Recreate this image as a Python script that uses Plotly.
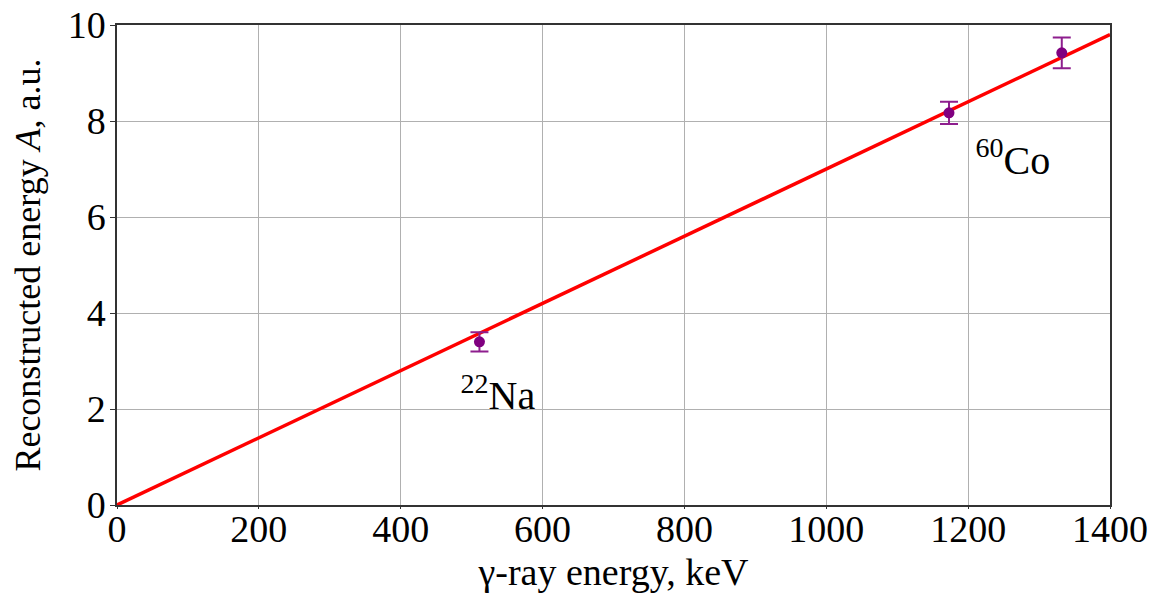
import plotly.graph_objects as go

energies = [511, 1173, 1332]
amplitudes = [3.4, 8.17, 9.42]
errors = [0.2, 0.23, 0.32]
fit_x = [0, 1400]
fit_y = [0, 9.8]
labels = ["<sup>22</sup>Na", "<sup>60</sup>Co"]
label_x = [537, 1263]
label_y = [2.2, 7.1]

font_family = "Times New Roman, Liberation Serif, serif"

fig = go.Figure()
fig.add_trace(go.Scatter(x=fit_x, y=fit_y, mode="lines",
                         line=dict(color="#ff0000", width=3.5), showlegend=False))
fig.add_trace(go.Scatter(x=energies, y=amplitudes, mode="markers",
                         marker=dict(color="#800080", size=11),
                         error_y=dict(type="data", array=errors, visible=True,
                                      color="#8e1e8e", thickness=2, width=9),
                         showlegend=False))
fig.add_trace(go.Scatter(x=label_x, y=label_y, mode="text", text=labels,
                         textfont=dict(family=font_family, size=40, color="black"),
                         showlegend=False))

axis_common = dict(showgrid=True, gridcolor="#b0b0b0", gridwidth=1,
                   showline=True, linecolor="#333333", linewidth=1.5, mirror=True,
                   zeroline=False, automargin=False,
                   tickfont=dict(family=font_family, size=38, color="black"))

fig.update_xaxes(range=[0, 1400], dtick=200, tick0=0,
                 ticks="outside", ticklen=2, tickcolor="#333333",
                 ticklabelstandoff=-12,
                 title=dict(text="γ-ray energy, keV",
                            font=dict(family=font_family, size=38, color="black"),
                            standoff=16),
                 **axis_common)
fig.update_yaxes(range=[0, 10], dtick=2, tick0=0,
                 ticks="outside", ticklen=5, tickcolor="#333333",
                 ticklabelstandoff=-3,
                 title=dict(text="Reconstructed energy <i>A</i>, a.u.",
                            font=dict(family=font_family, size=36, color="black"),
                            standoff=16),
                 **axis_common)

fig.update_layout(width=1153, height=593,
                  margin=dict(l=117, r=43, t=25, b=88),
                  plot_bgcolor="white", paper_bgcolor="white")

fig.write_html("out.html")
